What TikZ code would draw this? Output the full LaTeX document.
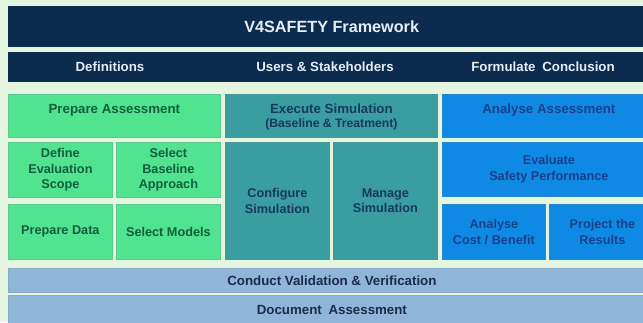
\documentclass[tikz,border=0pt]{standalone}
\usepackage{fontspec}
\setmainfont{Liberation Sans}
\usetikzlibrary{calc}
\definecolor{bgc}{HTML}{E4F5E0}
\definecolor{navy}{HTML}{0B2B4F}
\definecolor{hdtext}{HTML}{E6EDF3}
\definecolor{greenc}{HTML}{52E391}
\definecolor{greentext}{HTML}{115E3E}
\definecolor{tealc}{HTML}{3A9EA0}
\definecolor{tealtext}{HTML}{17395E}
\definecolor{bluec}{HTML}{0E8AE5}
\definecolor{bluetext}{HTML}{1D3F8A}
\definecolor{barc}{HTML}{8FB5DA}
\definecolor{bartext}{HTML}{1C2C4A}
\begin{document}
\begin{tikzpicture}[x=1pt,y=-1pt,
  base/.style={rectangle, anchor=north west, inner sep=0pt, align=center,
    font=\bfseries\fontsize{12.7}{15.5}\selectfont},
  navybox/.style={base, fill=navy, text=hdtext},
  greenbox/.style={base, fill=greenc, draw=greenc!75!gray, line width=0.8pt, text=greentext},
  tealbox/.style={base, fill=tealc, draw=tealc!75!gray, line width=0.8pt, text=tealtext},
  bluebox/.style={base, fill=bluec, draw=bluec!75!gray, line width=0.8pt, text=bluetext},
  barbox/.style={base, fill=barc, draw=barc!80!gray, line width=0.8pt, text=bartext,
    font=\bfseries\fontsize{13.3}{16}\selectfont},
  hdtxt/.style={text=hdtext, inner sep=0pt, font=\bfseries\fontsize{13.3}{16}\selectfont},
  toptxt/.style={anchor=north, inner sep=0pt, align=center, font=\bfseries\fontsize{13.3}{16}\selectfont}
]
\fill[bgc] (0,0) rectangle (643,322);
\useasboundingbox (0,0) rectangle (643,322);

% title and header
\node[navybox, minimum width=647, minimum height=41,
  font=\bfseries\fontsize{16.2}{19}\selectfont] (title) at (8,6) {V4SAFETY Framework};
\node[navybox, minimum width=647, minimum height=30] (header) at (8,52) {};
\node[hdtxt] (hdef) at (110,67) {Definitions};
\node[hdtxt] (husr) at (325,67) {Users \& Stakeholders};
\node[hdtxt] (hfor) at (543,67) {Formulate\hspace{3pt} Conclusion};

% top row
\node[greenbox, minimum width=212, minimum height=43] (pa) at (8,94) {};
\node[tealbox, minimum width=212, minimum height=43] (es) at (225,94) {};
\node[bluebox, minimum width=213, minimum height=43] (aa) at (442,94) {};
\node[toptxt, text=greentext] (pat) at ($(pa.north)+(0,10)$) {Prepare Assessment};
\node[toptxt, text=tealtext] (est) at ($(es.north)+(0,10)$)
  {Execute Simulation\\[-2pt]{\fontsize{12.2}{14}\selectfont(Baseline \& Treatment)}};
\node[toptxt, text=bluetext] (aat) at ($(aa.north)+(0,10)$) {Analyse Assessment};

% second row
\node[greenbox, minimum width=104, minimum height=55] (des) at (8,142) {Define\\Evaluation\\Scope};
\node[greenbox, minimum width=104, minimum height=55] (sba) at (116,142) {Select\\Baseline\\Approach};
\node[tealbox, minimum width=104, minimum height=117] (cs) at (225,142) {Configure\\Simulation};
\node[tealbox, minimum width=104, minimum height=117] (ms) at (333,142) {Manage\\Simulation};
\node[bluebox, minimum width=213, minimum height=54] (esp) at (442,142) {Evaluate\\Safety Performance};

% third row
\node[greenbox, minimum width=104, minimum height=55] (pd) at (8,204) {Prepare Data};
\node[greenbox, minimum width=104, minimum height=55] (sm) at (116,204) {Select Models};
\node[bluebox, minimum width=103, minimum height=55] (acb) at (442,204) {Analyse\\Cost / Benefit};
\node[bluebox, minimum width=106, minimum height=55] (pr) at (549,204) {Project the\\Results};

% bars
\node[barbox, minimum width=647, minimum height=24] (cvv) at (8,268) {Conduct Validation \& Verification};
\node[barbox, minimum width=647, minimum height=29] (da) at (8,295) {Document\hspace{3pt} Assessment};
\end{tikzpicture}
\end{document}
